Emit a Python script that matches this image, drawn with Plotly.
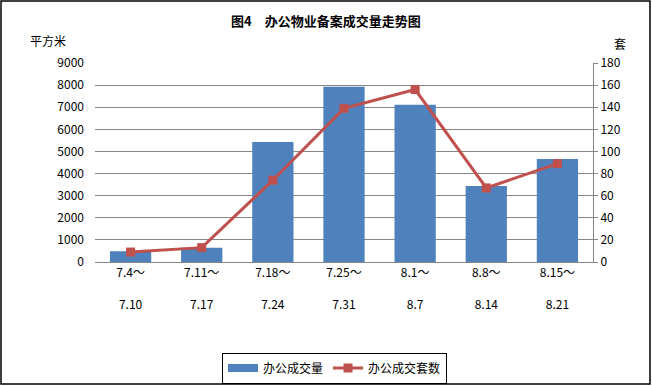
import plotly.graph_objects as go

categories = ["7.4～<br><br>7.10", "7.11～<br><br>7.17", "7.18～<br><br>7.24", "7.25～<br><br>7.31",
              "8.1～<br><br>8.7", "8.8～<br><br>8.14", "8.15～<br><br>8.21"]
area_values = [490, 640, 5430, 7930, 7110, 3440, 4660]
unit_values = [9, 13, 74, 139, 156, 67, 89]
left_ticks = [0, 1000, 2000, 3000, 4000, 5000, 6000, 7000, 8000, 9000]
right_ticks = [0, 20, 40, 60, 80, 100, 120, 140, 160, 180]

FONT = "SimSun, 'Noto Sans CJK SC', sans-serif"
L, R, T, B = 95, 59, 63, 124
W, H = 652, 386
pw, ph = W - L - R, H - T - B

BLUE = "#4F81BD"
RED = "#C0504D"

fig = go.Figure()
fig.add_trace(go.Bar(x=categories, y=area_values, name="办公成交量", showlegend=False,
                     marker=dict(color=BLUE, line=dict(width=0)), width=0.58))
fig.add_trace(go.Scatter(x=[None], y=[None], name="办公成交量", mode="lines",
                         line=dict(color=BLUE, width=8)))
fig.add_trace(go.Scatter(x=categories, y=unit_values, name="办公成交套数", yaxis="y2",
                         mode="lines+markers",
                         line=dict(color=RED, width=3),
                         marker=dict(symbol="square", size=9, color=RED)))

def px(x):
    return (x - L) / pw

def py(y):
    return (H - B - y) / ph

fig.update_layout(
    width=W, height=H,
    margin=dict(l=L, r=R, t=T, b=B, autoexpand=False),
    paper_bgcolor="white", plot_bgcolor="white",
    font=dict(family=FONT, size=12, color="black"),
    showlegend=True,
    legend=dict(orientation="h", x=px(334.5), y=py(368), xanchor="center", yanchor="middle",
                bordercolor="black", borderwidth=1, font=dict(size=12, family=FONT),
                itemwidth=30, tracegroupgap=0),
    bargap=0.42,
    xaxis=dict(showline=True, linecolor="#868686", linewidth=1, ticks="", showgrid=False,
               tickfont=dict(size=12, family=FONT), fixedrange=True),
    yaxis=dict(range=[0, 9000], tickvals=left_ticks, showgrid=True, gridcolor="#868686",
               gridwidth=1, showline=False, ticks="", zeroline=False,
               tickfont=dict(size=12, family=FONT), ticklabelstandoff=10),
    yaxis2=dict(range=[0, 180], tickvals=right_ticks, overlaying="y", side="right",
                showgrid=False, showline=True, linecolor="#868686", linewidth=1,
                ticks="outside", ticklen=4, tickcolor="#868686", zeroline=False,
                tickfont=dict(size=12, family=FONT)),
    annotations=[
        dict(text="<b>图4　办公物业备案成交量走势图</b>", xref="paper", yref="paper",
             x=px(326), y=py(20), xanchor="center", yanchor="middle", showarrow=False,
             font=dict(size=13, family=FONT)),
        dict(text="平方米", xref="paper", yref="paper", x=px(48), y=py(40),
             xanchor="center", yanchor="middle", showarrow=False, font=dict(size=12, family=FONT)),
        dict(text="套", xref="paper", yref="paper", x=px(620), y=py(43),
             xanchor="center", yanchor="middle", showarrow=False, font=dict(size=12, family=FONT)),
    ],
    shapes=[dict(type="rect", xref="paper", yref="paper", x0=px(1), x1=px(650), y0=py(384), y1=py(1),
                 line=dict(color="black", width=1.5), layer="below")],
)

fig.write_html("out.html", config={"displayModeBar": False},
               post_script="document.body.style.margin='0';document.body.style.overflow='hidden';")
